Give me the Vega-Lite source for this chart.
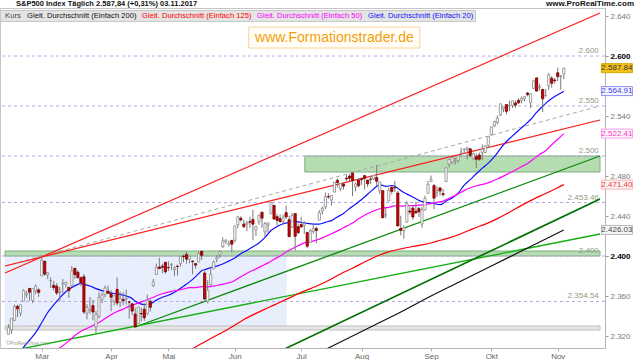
{
"$schema": "https://vega.github.io/schema/vega-lite/v6.json",
"width": 605, "height": 340,
"autosize": {"type": "none"},
"padding": {"left": 0, "top": 8, "right": 35, "bottom": 12},
"background": "white",
"config": {"font": "Liberation Sans", "view": {"stroke": "#c4c4c4"}},
"datasets": {
"candles": [
{"t":0,"o":2321.7,"h":2331.6,"l":2321.4,"c":2328.3},{"t":1,"o":2326.1,"h":2337.6,"l":2322.2,"c":2337.6},{"t":2,"o":2335.6,"h":2351.3,"l":2334.8,"c":2349.3},{"t":3,"o":2349.6,"h":2351.3,"l":2338.9,"c":2347.2},{"t":4,"o":2343.0,"h":2351.2,"l":2339.6,"c":2351.2},{"t":5,"o":2354.9,"h":2366.7,"l":2354.9,"c":2365.4},{"t":6,"o":2361.1,"h":2365.1,"l":2358.3,"c":2362.8},{"t":7,"o":2367.5,"h":2368.3,"l":2355.1,"c":2363.8},{"t":8,"o":2355.7,"h":2367.3,"l":2352.9,"c":2367.3},{"t":9,"o":2365.2,"h":2371.5,"l":2361.9,"c":2369.8},
{"t":10,"o":2366.1,"h":2367.8,"l":2359.0,"c":2363.6},{"t":11,"o":2380.1,"h":2401.0,"l":2380.1,"c":2396.0},{"t":12,"o":2394.8,"h":2394.8,"l":2380.2,"c":2381.9},{"t":13,"o":2380.9,"h":2383.9,"l":2376.9,"c":2383.1},{"t":14,"o":2375.2,"h":2378.8,"l":2368.0,"c":2375.3},{"t":15,"o":2370.7,"h":2375.1,"l":2365.5,"c":2368.4},{"t":16,"o":2369.8,"h":2373.1,"l":2361.0,"c":2363.0},{"t":17,"o":2363.5,"h":2369.1,"l":2354.5,"c":2364.9},{"t":18,"o":2372.5,"h":2376.9,"l":2363.0,"c":2372.6},{"t":19,"o":2371.6,"h":2374.4,"l":2368.5,"c":2373.5},
{"t":20,"o":2368.6,"h":2368.6,"l":2358.2,"c":2365.5},{"t":21,"o":2370.3,"h":2390.0,"l":2368.9,"c":2385.3},{"t":22,"o":2387.7,"h":2388.1,"l":2377.2,"c":2381.4},{"t":23,"o":2383.7,"h":2385.7,"l":2377.6,"c":2378.3},{"t":24,"o":2378.2,"h":2379.6,"l":2369.7,"c":2373.5},{"t":25,"o":2379.3,"h":2381.9,"l":2341.9,"c":2344.0},{"t":26,"o":2343.0,"h":2351.8,"l":2336.5,"c":2348.5},{"t":27,"o":2346.0,"h":2358.9,"l":2342.1,"c":2346.0},{"t":28,"o":2350.4,"h":2356.2,"l":2335.7,"c":2344.0},{"t":29,"o":2329.1,"h":2344.9,"l":2322.3,"c":2341.6},
{"t":30,"o":2339.8,"h":2363.8,"l":2337.6,"c":2358.6},{"t":31,"o":2356.5,"h":2363.4,"l":2352.9,"c":2361.1},{"t":32,"o":2361.3,"h":2370.4,"l":2358.6,"c":2368.1},{"t":33,"o":2364.8,"h":2370.4,"l":2362.6,"c":2362.7},{"t":34,"o":2362.3,"h":2365.9,"l":2344.7,"c":2358.8},{"t":35,"o":2354.8,"h":2360.5,"l":2350.7,"c":2360.2},{"t":36,"o":2366.6,"h":2378.4,"l":2350.5,"c":2353.0},{"t":37,"o":2353.8,"h":2364.2,"l":2348.9,"c":2357.5},{"t":38,"o":2356.6,"h":2363.8,"l":2350.7,"c":2355.5},{"t":39,"o":2357.2,"h":2366.4,"l":2351.5,"c":2357.2},
{"t":40,"o":2353.9,"h":2355.2,"l":2337.3,"c":2353.8},{"t":41,"o":2352.2,"h":2352.7,"l":2341.2,"c":2344.9},{"t":42,"o":2342.0,"h":2348.3,"l":2329.0,"c":2329.0},{"t":43,"o":2332.6,"h":2349.1,"l":2332.5,"c":2349.0},{"t":44,"o":2342.5,"h":2348.4,"l":2334.5,"c":2342.2},{"t":45,"o":2346.8,"h":2352.6,"l":2335.1,"c":2338.2},{"t":46,"o":2342.7,"h":2361.4,"l":2340.9,"c":2355.8},{"t":47,"o":2354.7,"h":2356.2,"l":2344.5,"c":2348.7},{"t":48,"o":2370.3,"h":2377.0,"l":2369.2,"c":2374.2},{"t":49,"o":2381.5,"h":2392.5,"l":2381.2,"c":2388.6},
{"t":50,"o":2389.0,"h":2398.2,"l":2386.8,"c":2387.5},{"t":51,"o":2389.7,"h":2392.1,"l":2382.7,"c":2388.8},{"t":52,"o":2393.7,"h":2393.7,"l":2382.4,"c":2384.2},{"t":53,"o":2388.5,"h":2394.5,"l":2384.8,"c":2388.3},{"t":54,"o":2391.1,"h":2392.9,"l":2385.8,"c":2391.2},{"t":55,"o":2386.5,"h":2389.8,"l":2379.8,"c":2388.1},{"t":56,"o":2389.8,"h":2391.4,"l":2380.4,"c":2389.5},{"t":57,"o":2392.4,"h":2399.3,"l":2389.4,"c":2399.3},{"t":58,"o":2399.9,"h":2401.4,"l":2393.9,"c":2399.4},{"t":59,"o":2401.6,"h":2403.9,"l":2392.4,"c":2396.9},
{"t":60,"o":2396.8,"h":2399.7,"l":2392.8,"c":2399.6},{"t":61,"o":2394.8,"h":2395.7,"l":2381.7,"c":2394.4},{"t":62,"o":2392.4,"h":2392.4,"l":2387.2,"c":2390.9},{"t":63,"o":2394.0,"h":2404.1,"l":2393.9,"c":2402.3},{"t":64,"o":2404.6,"h":2405.8,"l":2396.1,"c":2400.7},{"t":65,"o":2383.0,"h":2384.9,"l":2356.2,"c":2357.0},{"t":66,"o":2354.7,"h":2375.7,"l":2352.7,"c":2365.7},{"t":67,"o":2371.4,"h":2389.1,"l":2370.4,"c":2381.7},{"t":68,"o":2387.2,"h":2395.5,"l":2386.9,"c":2394.0},{"t":69,"o":2397.0,"h":2400.9,"l":2393.9,"c":2398.4},
{"t":70,"o":2401.4,"h":2405.6,"l":2398.0,"c":2404.4},{"t":71,"o":2409.5,"h":2418.7,"l":2408.0,"c":2415.1},{"t":72,"o":2414.5,"h":2416.7,"l":2412.2,"c":2415.8},{"t":73,"o":2411.7,"h":2415.3,"l":2409.4,"c":2412.9},{"t":74,"o":2415.6,"h":2416.0,"l":2403.6,"c":2411.8},{"t":75,"o":2415.7,"h":2430.1,"l":2413.5,"c":2430.1},{"t":76,"o":2431.3,"h":2440.2,"l":2427.7,"c":2439.1},{"t":77,"o":2437.8,"h":2439.6,"l":2434.3,"c":2436.1},{"t":78,"o":2431.9,"h":2436.2,"l":2428.1,"c":2429.3},{"t":79,"o":2432.0,"h":2435.3,"l":2424.8,"c":2433.1},
{"t":80,"o":2434.3,"h":2439.3,"l":2427.9,"c":2433.8},{"t":81,"o":2436.4,"h":2446.2,"l":2415.7,"c":2431.8},{"t":82,"o":2425.9,"h":2430.4,"l":2420.0,"c":2429.4},{"t":83,"o":2434.2,"h":2441.5,"l":2431.3,"c":2440.4},{"t":84,"o":2443.8,"h":2443.8,"l":2428.3,"c":2437.9},{"t":85,"o":2424.1,"h":2434.0,"l":2418.5,"c":2432.5},{"t":86,"o":2431.2,"h":2433.2,"l":2422.9,"c":2433.2},{"t":87,"o":2442.6,"h":2453.8,"l":2441.8,"c":2453.5},{"t":88,"o":2450.7,"h":2450.7,"l":2436.6,"c":2437.0},{"t":89,"o":2439.3,"h":2442.2,"l":2430.7,"c":2435.6},
{"t":90,"o":2437.4,"h":2441.6,"l":2433.3,"c":2434.5},{"t":91,"o":2434.7,"h":2441.4,"l":2431.1,"c":2438.3},{"t":92,"o":2443.3,"h":2450.4,"l":2437.0,"c":2439.1},{"t":93,"o":2436.3,"h":2440.2,"l":2419.4,"c":2419.4},{"t":94,"o":2428.7,"h":2443.0,"l":2428.0,"c":2440.7},{"t":95,"o":2442.4,"h":2442.7,"l":2405.7,"c":2419.7},{"t":96,"o":2429.2,"h":2432.7,"l":2421.7,"c":2423.4},{"t":97,"o":2431.4,"h":2439.2,"l":2428.7,"c":2429.0},{"t":98,"o":2430.8,"h":2434.9,"l":2422.1,"c":2432.5},{"t":99,"o":2423.4,"h":2424.3,"l":2407.7,"c":2409.8},
{"t":100,"o":2413.5,"h":2426.9,"l":2413.5,"c":2425.2},{"t":101,"o":2424.5,"h":2432.0,"l":2422.3,"c":2427.4},{"t":102,"o":2427.4,"h":2429.3,"l":2412.8,"c":2425.5},{"t":103,"o":2435.8,"h":2445.8,"l":2435.8,"c":2443.3},{"t":104,"o":2445.0,"h":2449.3,"l":2441.7,"c":2447.8},{"t":105,"o":2449.2,"h":2463.5,"l":2446.7,"c":2459.3},{"t":106,"o":2459.5,"h":2462.8,"l":2457.2,"c":2459.1},{"t":107,"o":2455.9,"h":2460.9,"l":2450.3,"c":2460.6},{"t":108,"o":2463.9,"h":2473.8,"l":2463.9,"c":2473.8},{"t":109,"o":2475.6,"h":2477.6,"l":2468.4,"c":2473.5},
{"t":110,"o":2467.4,"h":2472.5,"l":2465.1,"c":2472.5},{"t":111,"o":2472.0,"h":2473.1,"l":2466.3,"c":2469.9},{"t":112,"o":2477.9,"h":2481.2,"l":2474.9,"c":2477.1},{"t":113,"o":2480.0,"h":2481.7,"l":2474.9,"c":2477.8},{"t":114,"o":2482.8,"h":2484.0,"l":2459.9,"c":2475.4},{"t":115,"o":2469.1,"h":2473.5,"l":2464.7,"c":2472.1},{"t":116,"o":2475.9,"h":2478.0,"l":2468.5,"c":2470.3},{"t":117,"o":2477.1,"h":2478.5,"l":2471.1,"c":2476.4},{"t":118,"o":2480.4,"h":2480.4,"l":2466.5,"c":2477.6},{"t":119,"o":2476.0,"h":2476.0,"l":2468.9,"c":2472.2},
{"t":120,"o":2476.9,"h":2480.0,"l":2472.1,"c":2476.8},{"t":121,"o":2477.1,"h":2481.0,"l":2475.9,"c":2480.9},{"t":122,"o":2478.4,"h":2490.9,"l":2470.3,"c":2474.9},{"t":123,"o":2465.4,"h":2474.4,"l":2462.1,"c":2474.0},{"t":124,"o":2465.4,"h":2465.4,"l":2437.8,"c":2438.2},{"t":125,"o":2441.0,"h":2448.1,"l":2437.9,"c":2441.3},{"t":126,"o":2455.0,"h":2468.2,"l":2455.0,"c":2465.8},{"t":127,"o":2468.7,"h":2468.9,"l":2461.6,"c":2464.6},{"t":128,"o":2468.6,"h":2474.9,"l":2463.9,"c":2468.1},{"t":129,"o":2463.0,"h":2465.0,"l":2430.0,"c":2430.0},
{"t":130,"o":2427.6,"h":2440.3,"l":2420.7,"c":2425.6},{"t":131,"o":2425.5,"h":2430.6,"l":2417.4,"c":2428.4},{"t":132,"o":2433.8,"h":2454.8,"l":2433.7,"c":2452.5},{"t":133,"o":2444.9,"h":2448.9,"l":2441.4,"c":2444.0},{"t":134,"o":2447.9,"h":2450.4,"l":2436.2,"c":2439.0},{"t":135,"o":2444.7,"h":2454.0,"l":2442.2,"c":2443.1},{"t":136,"o":2447.4,"h":2449.1,"l":2439.0,"c":2444.2},{"t":137,"o":2431.9,"h":2449.2,"l":2428.2,"c":2446.3},{"t":138,"o":2446.1,"h":2460.3,"l":2445.6,"c":2457.6},{"t":139,"o":2462.7,"h":2475.0,"l":2462.7,"c":2471.7},
{"t":140,"o":2474.4,"h":2480.4,"l":2473.9,"c":2476.6},{"t":141,"o":2470.4,"h":2472.0,"l":2446.6,"c":2457.9},{"t":142,"o":2463.8,"h":2469.6,"l":2459.2,"c":2465.5},{"t":143,"o":2468.1,"h":2468.6,"l":2460.3,"c":2465.1},{"t":144,"o":2462.3,"h":2467.1,"l":2459.4,"c":2461.4},{"t":145,"o":2474.5,"h":2489.0,"l":2474.5,"c":2488.1},{"t":146,"o":2491.9,"h":2496.8,"l":2488.7,"c":2496.5},{"t":147,"o":2493.9,"h":2498.4,"l":2492.1,"c":2498.4},{"t":148,"o":2494.6,"h":2498.4,"l":2491.4,"c":2495.6},{"t":149,"o":2495.7,"h":2500.2,"l":2493.2,"c":2500.2},
{"t":150,"o":2502.5,"h":2508.3,"l":2499.9,"c":2503.9},{"t":151,"o":2506.3,"h":2507.8,"l":2503.2,"c":2506.7},{"t":152,"o":2506.8,"h":2508.9,"l":2496.7,"c":2508.2},{"t":153,"o":2507.2,"h":2507.2,"l":2499.0,"c":2500.6},{"t":154,"o":2497.3,"h":2503.5,"l":2496.5,"c":2502.2},{"t":155,"o":2499.4,"h":2502.5,"l":2488.0,"c":2496.7},{"t":156,"o":2501.0,"h":2503.5,"l":2495.1,"c":2496.8},{"t":157,"o":2503.3,"h":2511.8,"l":2495.9,"c":2507.0},{"t":158,"o":2503.4,"h":2510.8,"l":2502.9,"c":2510.1},{"t":159,"o":2510.8,"h":2519.4,"l":2508.0,"c":2519.4},
{"t":160,"o":2521.2,"h":2529.2,"l":2520.4,"c":2529.1},{"t":161,"o":2530.3,"h":2535.1,"l":2528.9,"c":2534.6},{"t":162,"o":2533.5,"h":2540.5,"l":2531.8,"c":2537.7},{"t":163,"o":2540.9,"h":2552.5,"l":2540.0,"c":2552.1},{"t":164,"o":2547.4,"h":2549.4,"l":2543.8,"c":2549.3},{"t":165,"o":2551.4,"h":2551.8,"l":2541.6,"c":2544.7},{"t":166,"o":2550.0,"h":2555.2,"l":2544.9,"c":2550.6},{"t":167,"o":2550.6,"h":2555.2,"l":2548.0,"c":2555.2},{"t":168,"o":2552.9,"h":2555.3,"l":2548.3,"c":2550.9},{"t":169,"o":2555.7,"h":2557.7,"l":2552.1,"c":2553.2},
{"t":170,"o":2555.6,"h":2559.5,"l":2552.6,"c":2557.6},{"t":171,"o":2557.2,"h":2559.7,"l":2554.7,"c":2559.4},{"t":172,"o":2562.9,"h":2564.1,"l":2559.7,"c":2561.3},{"t":173,"o":2553.4,"h":2562.4,"l":2547.9,"c":2562.1},{"t":174,"o":2567.6,"h":2575.4,"l":2567.6,"c":2575.2},{"t":175,"o":2578.1,"h":2578.3,"l":2564.3,"c":2565.0},{"t":176,"o":2568.7,"h":2572.2,"l":2565.6,"c":2569.1},{"t":177,"o":2566.5,"h":2567.4,"l":2544.0,"c":2557.2},{"t":178,"o":2560.1,"h":2567.1,"l":2559.8,"c":2560.4},{"t":179,"o":2570.3,"h":2583.0,"l":2565.9,"c":2581.1},
{"t":180,"o":2577.8,"h":2580.0,"l":2568.3,"c":2572.8},{"t":181,"o":2576.0,"h":2578.3,"l":2572.2,"c":2575.3},{"t":182,"o":2583.2,"h":2588.4,"l":2574.9,"c":2579.4},{"t":183,"o":2579.5,"h":2581.1,"l":2566.2,"c":2579.9},{"t":184,"o":2581.9,"h":2588.4,"l":2576.8,"c":2587.8}
],
"ma": [
{"s":"MA20","t":3,"v":2299.6},{"s":"MA20","t":5,"v":2308.6},{"s":"MA20","t":7,"v":2316.0},{"s":"MA20","t":9,"v":2323.3},{"s":"MA20","t":11,"v":2333.3},{"s":"MA20","t":13,"v":2343.5},{"s":"MA20","t":15,"v":2351.1},{"s":"MA20","t":17,"v":2358.1},{"s":"MA20","t":19,"v":2364.2},{"s":"MA20","t":21,"v":2368.4},{"s":"MA20","t":23,"v":2371.6},{"s":"MA20","t":24,"v":2372.7},{"s":"MA20","t":25,"v":2371.6},{"s":"MA20","t":27,"v":2370.0},{"s":"MA20","t":29,"v":2367.4},{"s":"MA20","t":31,"v":2365.4},{"s":"MA20","t":33,"v":2363.7},{"s":"MA20","t":35,"v":2362.5},{"s":"MA20","t":37,"v":2361.6},{"s":"MA20","t":39,"v":2360.0},{"s":"MA20","t":41,"v":2357.4},{"s":"MA20","t":42,"v":2354.8},{"s":"MA20","t":43,"v":2353.4},{"s":"MA20","t":44,"v":2351.8},{"s":"MA20","t":45,"v":2351.5},{"s":"MA20","t":47,"v":2352.1},{"s":"MA20","t":49,"v":2355.9},{"s":"MA20","t":51,"v":2358.7},{"s":"MA20","t":53,"v":2360.8},{"s":"MA20","t":55,"v":2363.8},{"s":"MA20","t":57,"v":2367.7},{"s":"MA20","t":59,"v":2371.9},{"s":"MA20","t":61,"v":2376.6},{"s":"MA20","t":63,"v":2382.4},{"s":"MA20","t":64,"v":2385.3},{"s":"MA20","t":65,"v":2386.3},{"s":"MA20","t":67,"v":2388.4},{"s":"MA20","t":69,"v":2389.9},{"s":"MA20","t":71,"v":2392.0},{"s":"MA20","t":73,"v":2394.9},{"s":"MA20","t":75,"v":2398.0},{"s":"MA20","t":77,"v":2402.3},{"s":"MA20","t":79,"v":2405.6},{"s":"MA20","t":81,"v":2409.2},{"s":"MA20","t":83,"v":2413.0},{"s":"MA20","t":85,"v":2418.6},{"s":"MA20","t":87,"v":2425.5},{"s":"MA20","t":89,"v":2429.6},{"s":"MA20","t":91,"v":2432.3},{"s":"MA20","t":93,"v":2433.7},{"s":"MA20","t":94,"v":2435.2},{"s":"MA20","t":95,"v":2434.7},{"s":"MA20","t":97,"v":2433.5},{"s":"MA20","t":99,"v":2432.6},{"s":"MA20","t":101,"v":2431.9},{"s":"MA20","t":103,"v":2431.9},{"s":"MA20","t":105,"v":2433.7},{"s":"MA20","t":107,"v":2435.4},{"s":"MA20","t":109,"v":2439.1},{"s":"MA20","t":111,"v":2442.6},{"s":"MA20","t":113,"v":2447.5},{"s":"MA20","t":115,"v":2451.8},{"s":"MA20","t":117,"v":2456.5},{"s":"MA20","t":119,"v":2461.8},{"s":"MA20","t":121,"v":2467.1},{"s":"MA20","t":123,"v":2471.1},{"s":"MA20","t":124,"v":2470.6},{"s":"MA20","t":125,"v":2469.7},{"s":"MA20","t":127,"v":2470.3},{"s":"MA20","t":128,"v":2470.0},{"s":"MA20","t":129,"v":2467.8},{"s":"MA20","t":131,"v":2463.4},{"s":"MA20","t":133,"v":2460.5},{"s":"MA20","t":135,"v":2457.2},{"s":"MA20","t":137,"v":2454.4},{"s":"MA20","t":139,"v":2453.4},{"s":"MA20","t":141,"v":2452.3},{"s":"MA20","t":143,"v":2451.4},{"s":"MA20","t":144,"v":2452.5},{"s":"MA20","t":145,"v":2454.9},{"s":"MA20","t":147,"v":2458.0},{"s":"MA20","t":149,"v":2462.9},{"s":"MA20","t":151,"v":2470.8},{"s":"MA20","t":153,"v":2476.4},{"s":"MA20","t":155,"v":2482.2},{"s":"MA20","t":157,"v":2487.9},{"s":"MA20","t":159,"v":2492.9},{"s":"MA20","t":161,"v":2499.3},{"s":"MA20","t":163,"v":2507.3},{"s":"MA20","t":165,"v":2514.5},{"s":"MA20","t":167,"v":2520.1},{"s":"MA20","t":169,"v":2525.5},{"s":"MA20","t":171,"v":2530.8},{"s":"MA20","t":173,"v":2536.5},{"s":"MA20","t":175,"v":2543.6},{"s":"MA20","t":177,"v":2549.7},{"s":"MA20","t":179,"v":2555.3},{"s":"MA20","t":181,"v":2559.5},{"s":"MA20","t":183,"v":2562.9},{"s":"MA20","t":184,"v":2564.9},
{"s":"MA50","t":14,"v":2302.1},{"s":"MA50","t":16,"v":2306.2},{"s":"MA50","t":18,"v":2310.3},{"s":"MA50","t":20,"v":2315.1},{"s":"MA50","t":22,"v":2320.5},{"s":"MA50","t":24,"v":2324.7},{"s":"MA50","t":26,"v":2327.6},{"s":"MA50","t":28,"v":2330.5},{"s":"MA50","t":30,"v":2333.6},{"s":"MA50","t":32,"v":2337.4},{"s":"MA50","t":34,"v":2341.2},{"s":"MA50","t":36,"v":2344.5},{"s":"MA50","t":38,"v":2346.9},{"s":"MA50","t":40,"v":2349.6},{"s":"MA50","t":42,"v":2351.9},{"s":"MA50","t":44,"v":2354.1},{"s":"MA50","t":46,"v":2356.3},{"s":"MA50","t":48,"v":2358.7},{"s":"MA50","t":50,"v":2361.3},{"s":"MA50","t":52,"v":2363.1},{"s":"MA50","t":54,"v":2364.7},{"s":"MA50","t":56,"v":2365.7},{"s":"MA50","t":58,"v":2367.0},{"s":"MA50","t":60,"v":2368.3},{"s":"MA50","t":62,"v":2368.4},{"s":"MA50","t":64,"v":2369.3},{"s":"MA50","t":66,"v":2369.2},{"s":"MA50","t":68,"v":2369.9},{"s":"MA50","t":70,"v":2371.2},{"s":"MA50","t":72,"v":2372.5},{"s":"MA50","t":74,"v":2374.0},{"s":"MA50","t":76,"v":2377.5},{"s":"MA50","t":78,"v":2381.0},{"s":"MA50","t":80,"v":2384.3},{"s":"MA50","t":82,"v":2387.0},{"s":"MA50","t":84,"v":2390.1},{"s":"MA50","t":86,"v":2393.1},{"s":"MA50","t":88,"v":2396.7},{"s":"MA50","t":90,"v":2399.9},{"s":"MA50","t":92,"v":2403.9},{"s":"MA50","t":94,"v":2407.3},{"s":"MA50","t":96,"v":2410.3},{"s":"MA50","t":98,"v":2413.1},{"s":"MA50","t":100,"v":2414.3},{"s":"MA50","t":102,"v":2415.9},{"s":"MA50","t":104,"v":2418.1},{"s":"MA50","t":106,"v":2420.9},{"s":"MA50","t":108,"v":2423.6},{"s":"MA50","t":110,"v":2426.6},{"s":"MA50","t":112,"v":2429.9},{"s":"MA50","t":114,"v":2432.9},{"s":"MA50","t":116,"v":2437.2},{"s":"MA50","t":118,"v":2440.8},{"s":"MA50","t":120,"v":2443.7},{"s":"MA50","t":122,"v":2446.2},{"s":"MA50","t":124,"v":2448.0},{"s":"MA50","t":126,"v":2448.7},{"s":"MA50","t":128,"v":2450.1},{"s":"MA50","t":130,"v":2449.9},{"s":"MA50","t":132,"v":2450.3},{"s":"MA50","t":134,"v":2450.4},{"s":"MA50","t":136,"v":2450.8},{"s":"MA50","t":138,"v":2451.1},{"s":"MA50","t":140,"v":2452.7},{"s":"MA50","t":142,"v":2453.6},{"s":"MA50","t":144,"v":2454.9},{"s":"MA50","t":146,"v":2457.7},{"s":"MA50","t":148,"v":2460.4},{"s":"MA50","t":150,"v":2463.8},{"s":"MA50","t":152,"v":2467.0},{"s":"MA50","t":154,"v":2469.2},{"s":"MA50","t":156,"v":2470.8},{"s":"MA50","t":158,"v":2472.4},{"s":"MA50","t":160,"v":2474.4},{"s":"MA50","t":162,"v":2477.0},{"s":"MA50","t":164,"v":2479.9},{"s":"MA50","t":166,"v":2483.0},{"s":"MA50","t":168,"v":2486.0},{"s":"MA50","t":170,"v":2489.3},{"s":"MA50","t":172,"v":2492.6},{"s":"MA50","t":174,"v":2497.1},{"s":"MA50","t":176,"v":2501.6},{"s":"MA50","t":178,"v":2505.3},{"s":"MA50","t":180,"v":2511.2},{"s":"MA50","t":182,"v":2516.7},{"s":"MA50","t":184,"v":2522.4},
{"s":"MA125","t":59,"v":2303.3},{"s":"MA125","t":62,"v":2309.0},{"s":"MA125","t":66,"v":2315.8},{"s":"MA125","t":70,"v":2322.2},{"s":"MA125","t":74,"v":2328.9},{"s":"MA125","t":78,"v":2336.5},{"s":"MA125","t":82,"v":2342.6},{"s":"MA125","t":86,"v":2348.2},{"s":"MA125","t":90,"v":2353.8},{"s":"MA125","t":94,"v":2359.4},{"s":"MA125","t":98,"v":2364.9},{"s":"MA125","t":102,"v":2369.7},{"s":"MA125","t":106,"v":2375.5},{"s":"MA125","t":110,"v":2382.0},{"s":"MA125","t":114,"v":2387.8},{"s":"MA125","t":118,"v":2394.0},{"s":"MA125","t":122,"v":2399.8},{"s":"MA125","t":126,"v":2404.1},{"s":"MA125","t":130,"v":2407.1},{"s":"MA125","t":134,"v":2409.5},{"s":"MA125","t":138,"v":2411.6},{"s":"MA125","t":142,"v":2414.8},{"s":"MA125","t":146,"v":2418.1},{"s":"MA125","t":150,"v":2422.3},{"s":"MA125","t":154,"v":2427.4},{"s":"MA125","t":158,"v":2431.9},{"s":"MA125","t":162,"v":2437.4},{"s":"MA125","t":166,"v":2443.7},{"s":"MA125","t":170,"v":2450.6},{"s":"MA125","t":174,"v":2456.9},{"s":"MA125","t":178,"v":2462.5},{"s":"MA125","t":182,"v":2468.4},{"s":"MA125","t":184,"v":2471.4},
{"s":"MA200","t":98,"v":2296},{"s":"MA200","t":110,"v":2314},{"s":"MA200","t":120,"v":2329},{"s":"MA200","t":130,"v":2344},{"s":"MA200","t":140,"v":2360},{"s":"MA200","t":150,"v":2375},{"s":"MA200","t":160,"v":2390},{"s":"MA200","t":170,"v":2405},{"s":"MA200","t":180,"v":2420},{"s":"MA200","t":184,"v":2426.03}
],
"trends": [
{"k":"red","t1":-1.15,"v1":2383,"t2":196,"v2":2643},
{"k":"red","t1":-1.15,"v1":2390,"t2":196,"v2":2536},
{"k":"gray","t1":-1.15,"v1":2390,"t2":196,"v2":2550},
{"k":"dgreen","t1":42,"v1":2329,"t2":196,"v2":2500},
{"k":"lgreen","t1":-1.15,"v1":2304,"t2":196,"v2":2422},
{"k":"sgreen","t1":88,"v1":2302,"t2":196,"v2":2457}
],
"zones": [
{"k":"blue","t1":-1.15,"t2":92,"v1":2330,"v2":2400},
{"k":"gray","t1":-1.15,"t2":196,"v1":2326,"v2":2330},
{"k":"green","t1":-1.15,"t2":196,"v1":2400,"v2":2405},
{"k":"green","t1":98.2,"t2":196,"v1":2484,"v2":2500}
],
"levels": [
{"v":2600,"label":"2.600"},{"v":2550,"label":"2.550"},{"v":2500,"label":"2.500"},{"v":2453.46,"label":"2.453.46"},{"v":2400,"label":"2.400"},{"v":2354.54,"label":"2.354.54"}
],
"tags": [
{"s":"Kurs","v":2587.84,"label":"2.587.84"},{"s":"MA20","v":2564.91,"label":"2.564.91"},{"s":"MA50","v":2522.41,"label":"2.522.41"},{"s":"MA125","v":2471.40,"label":"2.471.40"},{"s":"MA200","v":2426.03,"label":"2.426.03"}
],
"texts": [
{"head":"S&P500 Index   Täglich   2.587,84 (+0,31%)   03.11.2017","site":"www.ProRealTime.com","copy":"©ProRealTime.com","wm":"www.Formationstrader.de"}
]
},
"layer": [
{
"data": {"name": "zones"},
"mark": {"type": "rect", "strokeWidth": 1, "clip": true},
"encoding": {
"x": {"field": "t1", "type": "quantitative", "title": null,
"scale": {"domain": [-1.15, 196], "nice": false, "zero": false},
"axis": {"values": [11,34,53,75,97,117,140,160,182],
"labelExpr": "['Mar','Apr','Mai','Jun','Jul','Aug','Sep','Okt','Nov'][indexof([11,34,53,75,97,117,140,160,182], datum.value)]",
"grid": false, "tickSize": 3, "labelFontSize": 8, "labelColor": "#666666", "domainColor": "#b4b4b4", "tickColor": "#b4b4b4", "labelPadding": 1}},
"x2": {"field": "t2"},
"y": {"field": "v1", "type": "quantitative", "title": null,
"scale": {"domain": [2308, 2648], "nice": false, "zero": false},
"axis": {"orient": "right", "values": [2320,2340,2360,2380,2400,2420,2440,2460,2480,2500,2540,2580,2600,2620,2640],
"labelExpr": "replace(format(datum.value, ','), ',', '.')",
"grid": false, "tickSize": 3, "labelFontSize": 8, "labelPadding": 2,
"labelColor": {"condition": {"test": "datum.value % 100 == 0", "value": "#000000"}, "value": "#777777"},
"labelFontWeight": {"condition": {"test": "datum.value % 100 == 0", "value": "bold"}, "value": "normal"},
"domainColor": "#b4b4b4", "tickColor": "#999999"}},
"y2": {"field": "v2"},
"fill": {"condition": [{"test": "datum.k == 'blue'", "value": "#e8eefc"}, {"test": "datum.k == 'gray'", "value": "#e6e6e6"}], "value": "#b6dcb2"},
"stroke": {"condition": [{"test": "datum.k == 'blue'", "value": "#e8eefc"}, {"test": "datum.k == 'gray'", "value": "#bdbdbd"}], "value": "#7fae7f"}
}
},
{
"data": {"name": "levels"},
"mark": {"type": "rule", "strokeDash": [3, 3], "color": "#b9a4e6", "strokeWidth": 1},
"encoding": {"y": {"field": "v", "type": "quantitative"}}
},
{
"data": {"name": "levels"},
"mark": {"type": "text", "align": "right", "baseline": "bottom", "dy": -1, "fontSize": 8, "color": "#8e9c84"},
"encoding": {"x": {"datum": 195.6}, "y": {"field": "v", "type": "quantitative"}, "text": {"field": "label"}}
},
{
"data": {"name": "trends"},
"transform": [{"filter": "datum.k == 'gray'"}],
"mark": {"type": "rule", "color": "#a8a8a8", "strokeDash": [4, 3], "strokeWidth": 1, "clip": true},
"encoding": {"x": {"field": "t1", "type": "quantitative"}, "x2": {"field": "t2"}, "y": {"field": "v1", "type": "quantitative"}, "y2": {"field": "v2"}}
},
{
"data": {"name": "trends"},
"transform": [{"filter": "datum.k == 'red'"}],
"mark": {"type": "rule", "color": "#ff1a1a", "strokeWidth": 1.2, "clip": true},
"encoding": {"x": {"field": "t1", "type": "quantitative"}, "x2": {"field": "t2"}, "y": {"field": "v1", "type": "quantitative"}, "y2": {"field": "v2"}}
},
{
"data": {"name": "trends"},
"transform": [{"filter": "datum.k == 'dgreen'"}],
"mark": {"type": "rule", "color": "#0b8a0b", "strokeWidth": 1.3, "clip": true},
"encoding": {"x": {"field": "t1", "type": "quantitative"}, "x2": {"field": "t2"}, "y": {"field": "v1", "type": "quantitative"}, "y2": {"field": "v2"}}
},
{
"data": {"name": "trends"},
"transform": [{"filter": "datum.k == 'lgreen'"}],
"mark": {"type": "rule", "color": "#12b012", "strokeWidth": 1.4, "clip": true},
"encoding": {"x": {"field": "t1", "type": "quantitative"}, "x2": {"field": "t2"}, "y": {"field": "v1", "type": "quantitative"}, "y2": {"field": "v2"}}
},
{
"data": {"name": "trends"},
"transform": [{"filter": "datum.k == 'sgreen'"}],
"mark": {"type": "rule", "color": "#006e00", "strokeWidth": 1.6, "clip": true},
"encoding": {"x": {"field": "t1", "type": "quantitative"}, "x2": {"field": "t2"}, "y": {"field": "v1", "type": "quantitative"}, "y2": {"field": "v2"}}
},
{
"data": {"name": "ma"},
"mark": {"type": "line", "clip": true, "strokeWidth": 1.2, "interpolate": "monotone"},
"encoding": {
"x": {"field": "t", "type": "quantitative"},
"y": {"field": "v", "type": "quantitative"},
"color": {"field": "s", "type": "nominal",
"scale": {"domain": ["Kurs", "MA200", "MA125", "MA50", "MA20"], "range": ["#444444", "#111111", "#ff0000", "#ff00ff", "#1010ff"]},
"legend": {"orient": "none", "legendX": 0, "legendY": 2, "direction": "horizontal", "columns": 5, "title": null,
"symbolSize": 0, "symbolOpacity": 0, "symbolStrokeWidth": 0, "labelOffset": -4, "columnPadding": 2, "padding": 1.5,
"fillColor": "#e4e4e4", "strokeColor": "#c8c8c8", "labelFontSize": 7.6, "labelLimit": 0,
"labelExpr": "datum.label == 'Kurs' ? 'Kurs' : 'Gleit. Durchschnitt (Einfach ' + slice(datum.label, 2) + ')'",
"encode": {"labels": {"update": {"fill": {"signal": "scale('color', datum.value)"}}}}}}
}
},
{
"data": {"name": "candles"},
"mark": {"type": "rule", "color": "#7a7a7a", "strokeWidth": 1},
"encoding": {"x": {"field": "t", "type": "quantitative"}, "y": {"field": "l", "type": "quantitative"}, "y2": {"field": "h"}}
},
{
"data": {"name": "candles"},
"mark": {"type": "bar", "size": 2.2, "strokeWidth": 0.8},
"encoding": {
"x": {"field": "t", "type": "quantitative"},
"y": {"field": "o", "type": "quantitative"}, "y2": {"field": "c"},
"fill": {"condition": {"test": "datum.c < datum.o", "value": "#d00000"}, "value": "#ffffff"},
"stroke": {"condition": {"test": "datum.c < datum.o", "value": "#700000"}, "value": "#8a8a8a"}
}
},
{
"data": {"name": "tags"},
"mark": {"type": "tick", "orient": "horizontal", "size": 31, "thickness": 9, "strokeWidth": 1, "opacity": 1},
"encoding": {
"x": {"datum": 201.6},
"y": {"field": "v", "type": "quantitative"},
"fill": {"condition": {"test": "datum.s == 'Kurs'", "value": "#f3c21a"}, "value": "#f6f6f6"},
"stroke": {"field": "s", "type": "nominal", "legend": null,
"scale": {"domain": ["Kurs", "MA20", "MA50", "MA125", "MA200"], "range": ["#d8a800", "#8c8cff", "#ff99ee", "#ffb0b0", "#b8b8b8"]}}
}
},
{
"data": {"name": "tags"},
"mark": {"type": "text", "fontSize": 8, "align": "center", "baseline": "middle"},
"encoding": {
"x": {"datum": 201.6},
"y": {"field": "v", "type": "quantitative"},
"text": {"field": "label"},
"fill": {"field": "s", "type": "nominal", "legend": null,
"scale": {"domain": ["Kurs", "MA20", "MA50", "MA125", "MA200"], "range": ["#333333", "#3a3aff", "#ff33cc", "#ff3030", "#444444"]}}
}
},
{
"data": {"name": "texts"},
"mark": {"type": "rect", "fill": "#fffdf6", "stroke": "#f6d49a", "strokeWidth": 1},
"encoding": {"x": {"datum": 79.6}, "x2": {"datum": 136.3}, "y": {"datum": 2629}, "y2": {"datum": 2608}}
},
{
"data": {"name": "texts"},
"mark": {"type": "text", "fontSize": 14, "color": "#f5a00a", "align": "center", "baseline": "middle"},
"encoding": {"x": {"datum": 108}, "y": {"datum": 2618.5}, "text": {"field": "wm"}}
},
{
"data": {"name": "texts"},
"mark": {"type": "text", "fontSize": 7.5, "fontWeight": "bold", "color": "#111111", "align": "left", "baseline": "bottom", "dx": 11, "dy": -0.5},
"encoding": {"x": {"datum": -1.15}, "y": {"datum": 2648}, "text": {"field": "head"}}
},
{
"data": {"name": "texts"},
"mark": {"type": "text", "fontSize": 8, "fontWeight": "bold", "color": "#111111", "align": "right", "baseline": "bottom", "dx": 34, "dy": -0.5},
"encoding": {"x": {"datum": 196}, "y": {"datum": 2648}, "text": {"field": "site"}}
},
{
"data": {"name": "texts"},
"mark": {"type": "text", "fontSize": 5, "color": "#999999", "align": "left", "baseline": "bottom", "dx": 1, "dy": -2},
"encoding": {"x": {"datum": -1.15}, "y": {"datum": 2308}, "text": {"field": "copy"}}
}
]
}
